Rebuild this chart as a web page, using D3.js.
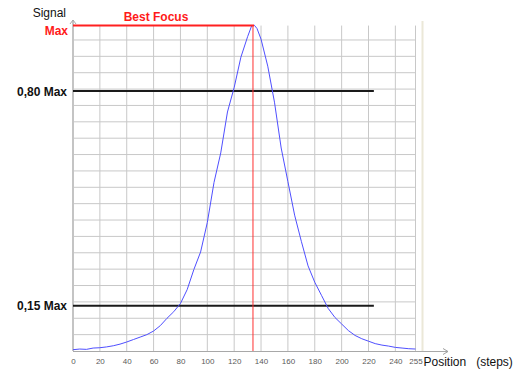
<!DOCTYPE html>
<html><head><meta charset="utf-8">
<script src="https://cdn.jsdelivr.net/npm/d3@7"></script>
<style>
html,body{margin:0;padding:0;background:#fff;}
svg{display:block;font-family:"Liberation Sans",Arial,sans-serif;}
</style></head>
<body><svg id="chart" width="514" height="370"></svg>
<script>
// ---- data ----
const positions = [0,5,10,15,20,25,30,35,40,45,50,55,60,65,70,75,80,85,90,95,100,105,110,115,120,125,130,133,135,137,140,145,150,155,160,165,170,175,180,185,190,195,200,205,210,215,220,225,230,235,240,245,250,255];
const signal    = [0.08,0.12,0.10,0.18,0.20,0.25,0.32,0.42,0.55,0.70,0.85,1.00,1.22,1.55,2.00,2.40,2.90,3.75,4.98,6.05,7.85,10.30,12.10,14.60,16.10,17.95,19.20,19.86,19.90,19.70,19.05,17.40,15.20,12.40,10.35,8.30,6.70,5.20,4.20,3.40,2.60,2.05,1.65,1.25,0.95,0.75,0.60,0.45,0.36,0.30,0.22,0.18,0.14,0.12];
const xTicks = [0,20,40,60,80,100,120,140,160,180,200,220,240,255];
const yGrid = [1,2,3,4,5,6,7,8,9,10,11,12,13,14,15,16,17,18,19];
const maxSignal = 19.88;
const bestFocus = 134;
const levelLabels = ["0,80 Max","0,15 Max"];
const levelValues = [15.88, 2.77];
const levelEnd = 224;

const svg = d3.select("#chart");
const x = d3.scaleLinear().domain([0,255]).range([73,415.5]);
const y = d3.scaleLinear().domain([0,20]).range([351,23.6]);
const yTop = y(maxSignal);

// window border (beige)
svg.append("line").attr("x1",422.5).attr("x2",422.5).attr("y1",21).attr("y2",352)
  .attr("stroke","#ebe8d8").attr("stroke-width",2);

// grid
svg.append("g").selectAll("line").data(yGrid).join("line")
  .attr("x1",x(0)).attr("x2",x(255)).attr("y1",d=>y(d)).attr("y2",d=>y(d))
  .attr("stroke","#c8c8c8").attr("stroke-width",1);
svg.append("g").selectAll("line").data(xTicks.slice(1)).join("line")
  .attr("x1",d=>x(d)).attr("x2",d=>x(d)).attr("y1",yTop).attr("y2",y(0))
  .attr("stroke","#c8c8c8").attr("stroke-width",1);

// y axis with arrow
svg.append("line").attr("x1",x(0)).attr("x2",x(0)).attr("y1",20).attr("y2",y(0))
  .attr("stroke","#c4c4c4").attr("stroke-width",2);
svg.append("path").attr("d",`M${x(0)-3},${24} L${x(0)},${20} L${x(0)+3},${24}`)
  .attr("fill","none").attr("stroke","#aaa").attr("stroke-width",1);

// x axis with arrow
svg.append("line").attr("x1",x(0)).attr("x2",448).attr("y1",y(0)+0.5).attr("y2",y(0)+0.5)
  .attr("stroke","#a8a8a8").attr("stroke-width",1);
svg.append("path").attr("d",`M${443},${y(0)-2.5} L${448},${y(0)+0.5} L${443},${y(0)+3.5}`)
  .attr("fill","none").attr("stroke","#a0a0a0").attr("stroke-width",1);

const xAxis = d3.axisBottom(x).tickValues(xTicks).tickSize(0).tickPadding(7);
const gx = svg.append("g").attr("transform",`translate(0,${y(0)})`).call(xAxis);
gx.select(".domain").remove();
gx.selectAll("text").attr("font-size",8).attr("fill","#5a5a5a")
  .attr("font-family","'Liberation Sans',Arial,sans-serif");

// level lines
svg.append("g").selectAll("line").data(levelValues).join("line")
  .attr("x1",x(0)).attr("x2",x(levelEnd)).attr("y1",d=>y(d)).attr("y2",d=>y(d))
  .attr("stroke","#1a1a1a").attr("stroke-width",2);
svg.append("g").selectAll("text").data(levelLabels).join("text")
  .attr("x",67).attr("y",(d,i)=>y(levelValues[i])+4.5).attr("text-anchor","end")
  .attr("font-size",12).attr("font-weight","bold").attr("fill","#111").text(d=>d);

// curve
const line = d3.line().x((d,i)=>x(positions[i])).y(d=>y(d));
svg.append("path").datum(signal).attr("d",line).attr("fill","none")
  .attr("stroke","#4f4fff").attr("stroke-width",1);

// best focus markers
svg.append("line").attr("x1",x(0)).attr("x2",x(bestFocus)+1).attr("y1",yTop).attr("y2",yTop)
  .attr("stroke","#ff2020").attr("stroke-width",2);
svg.append("line").attr("x1",x(bestFocus)).attr("x2",x(bestFocus)).attr("y1",yTop).attr("y2",y(0))
  .attr("stroke","#ff3030").attr("stroke-width",1);

// texts
svg.append("text").attr("x",66).attr("y",17).attr("text-anchor","end")
  .attr("font-size",12).attr("fill","#111").text("Signal");
svg.append("text").attr("x",68).attr("y",34.5).attr("text-anchor","end")
  .attr("font-size",12).attr("font-weight","bold").attr("fill","#ff1a1a").text("Max");
svg.append("text").attr("x",156).attr("y",20.5).attr("text-anchor","middle")
  .attr("font-size",12).attr("font-weight","bold").attr("fill","#ff1a1a").text("Best Focus");
svg.append("text").attr("x",423.5).attr("y",366).attr("font-size",12).attr("fill","#111")
  .style("white-space","pre").text("Position   (steps)");
</script></body></html>
